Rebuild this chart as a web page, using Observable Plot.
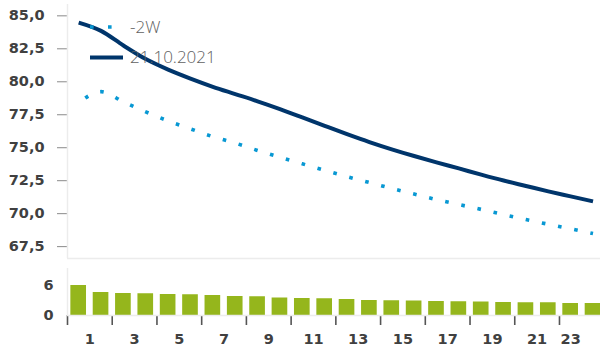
<!DOCTYPE html>
<html>
<head>
<meta charset="utf-8">
<script src="https://cdn.jsdelivr.net/npm/d3@7"></script>
<script src="https://cdn.jsdelivr.net/npm/@observablehq/plot@0.6"></script>
<style>
  body { margin: 0; background: #fff; }
  #chart { position: relative; width: 600px; height: 349px; overflow: hidden; }
  #chart svg { display: block; }
  #chart [aria-label^="y-axis"] line, #chart [aria-label^="y-axis"] path { stroke: #8a8a8a; }
  #chart [aria-label^="x-axis"] line, #chart [aria-label^="x-axis"] path { stroke: #555; stroke-width: 1.6; }
  .legend { position: absolute; left: 0; top: 0; font-family: "Open Sans", sans-serif; font-weight: 300; font-size: 17px; color: #616161; }
  .legend svg { position: absolute; left: 0; top: 0; }
  .legend span { position: absolute; left: 130px; line-height: 20px; white-space: nowrap; }
</style>
</head>
<body>
<div id="chart"></div>
<script>
// Hours of the day
const hours = [1,2,3,4,5,6,7,8,9,10,11,12,13,14,15,16,17,18,19,20,21,22,23,24];
// Forward price today (21.10.2021)
const today = [84.49,83.86,82.75,81.72,80.92,80.24,79.62,79.07,78.52,77.93,77.3,76.66,76.03,75.43,74.88,74.37,73.89,73.43,72.96,72.51,72.1,71.69,71.31,70.93];
// Same curve two weeks earlier (-2W)
const twoWeeks = [78.4,79.25,78.48,77.72,77.03,76.43,75.84,75.35,74.79,74.28,73.78,73.29,72.81,72.36,71.91,71.49,71.07,70.69,70.32,69.93,69.55,69.2,68.85,68.5];
// Difference shown as bars
const diff = [6.0,4.6,4.4,4.35,4.2,4.15,4.0,3.8,3.75,3.5,3.4,3.35,3.2,3.0,2.95,2.9,2.8,2.75,2.7,2.6,2.55,2.55,2.4,2.4];
// Axis ticks
const priceTicks = [67.5,70,72.5,75,77.5,80,82.5,85];
const diffTicks = [0,6];
const hourLabels = [1,3,5,7,9,11,13,15,17,19,21,23];

const seriesNames = ["-2W", "21.10.2021"];
const colors = { line: "#00356b", dotted: "#0898d3", bar: "#95b61c", frame: "#ececec", text: "#404040" };

const xScale = { type: "linear", domain: [0.5, 24.5], range: [67, 603.7] };
const priceDomain = [66.6, 85.86];
const diffDomain = [0, 9.4];
const comma = d => d.toFixed(1).replace(".", ",");
const tickFont = { fontFamily: "DejaVu Sans, sans-serif", fontWeight: "bold", fontSize: "14.5px", color: colors.text };

const lineData = hours.map((h, i) => ({ h, today: today[i], twoWeeks: twoWeeks[i] }));
const barData = hours.map((h, i) => ({ h, v: diff[i] }));

const pricePanel = Plot.plot({
  width: 600, height: 262,
  marginLeft: 67, marginRight: 0, marginTop: 4, marginBottom: 4,
  style: { ...tickFont, background: "transparent", overflow: "hidden" },
  x: { ...xScale, axis: null },
  y: { domain: priceDomain, ticks: priceTicks, tickFormat: comma, tickSize: 10, tickPadding: 13, label: null },
  marks: [
    Plot.ruleX([xScale.domain[0]], { stroke: colors.frame, strokeWidth: 1.5 }),
    Plot.ruleY([priceDomain[0]], { stroke: colors.frame, strokeWidth: 1.5 }),
    // square dots: butt caps keep each dash exactly its length
    Plot.line(lineData, { x: "h", y: "twoWeeks", stroke: colors.dotted, strokeWidth: 3.6, strokeLinecap: "butt",
      strokeDasharray: "3.6 12.9", strokeDashoffset: 8.5, curve: "monotone-x" }),
    Plot.line(lineData, { x: "h", y: "today", stroke: colors.line, strokeWidth: 4, strokeLinecap: "butt", curve: "monotone-x" })
  ]
});

const diffPanel = Plot.plot({
  width: 600, height: 87,
  marginLeft: 67, marginRight: 0, marginTop: 6, marginBottom: 34,
  style: { ...tickFont, background: "transparent", overflow: "hidden" },
  x: { ...xScale, ticks: hourLabels.map(d => d - 0.5), tickFormat: () => "", tickSize: 10, label: null },
  y: { domain: diffDomain, ticks: diffTicks, tickSize: 0, tickPadding: 14, label: null },
  marks: [
    Plot.ruleX([xScale.domain[0]], { stroke: colors.frame, strokeWidth: 1.5 }),
    Plot.rectY(barData, { x1: d => d.h - 0.35, x2: d => d.h + 0.35, y: "v", fill: colors.bar }),
    Plot.ruleY([0], { stroke: colors.frame, strokeWidth: 1.5 }),
    Plot.text(hourLabels, { x: d => Math.min(d + 0.5, 23), frameAnchor: "bottom", lineAnchor: "middle", dy: 24,
      text: d => String(d), fill: colors.text, fontSize: 14.5, fontWeight: "bold" })
  ]
});

const chart = document.getElementById("chart");
chart.appendChild(pricePanel);
chart.appendChild(diffPanel);

// Legend drawn over the upper panel
const legend = document.createElement("div");
legend.className = "legend";
legend.innerHTML = `
  <svg width="130" height="70">
    <line x1="84" x2="118" y1="27" y2="27" stroke="${colors.dotted}" stroke-width="3.6" stroke-dasharray="3.6 14.4" stroke-dashoffset="-6"></line>
    <line x1="90" x2="123" y1="57.5" y2="57.5" stroke="${colors.line}" stroke-width="4"></line>
  </svg>
  <span style="top:17px">${seriesNames[0]}</span>
  <span style="top:47px">${seriesNames[1]}</span>`;
chart.appendChild(legend);
</script>
</body>
</html>
